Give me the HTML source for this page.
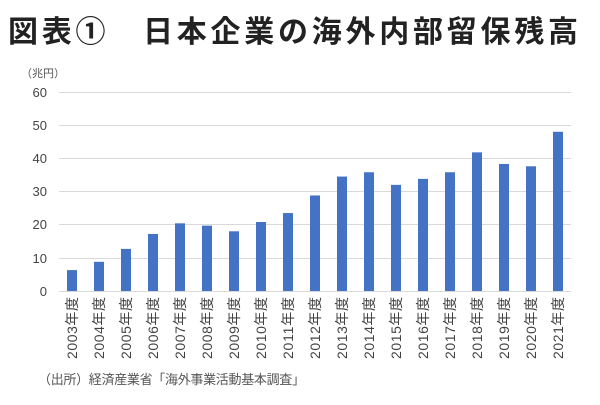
<!DOCTYPE html>
<html><head><meta charset="utf-8"><style>
body{margin:0;background:#fff;width:600px;height:400px;overflow:hidden}
svg text{font-family:"Liberation Sans","Noto Sans CJK JP",sans-serif}
</style></head><body>
<svg width="600" height="400" xmlns="http://www.w3.org/2000/svg">
<text x="8" y="42" font-size="30" font-weight="bold" fill="#222" style="font-family:'Noto Sans CJK JP',sans-serif" textLength="570">図表①　日本企業の海外内部留保残高</text>
<text x="21" y="77" font-size="11" fill="#555" style="font-family:'Noto Sans CJK JP',sans-serif">（兆円）</text>
<g stroke="#d9d9d9" stroke-width="1">
<line x1="59" x2="571" y1="92.5" y2="92.5"/><line x1="59" x2="571" y1="125.5" y2="125.5"/>
<line x1="59" x2="571" y1="158.5" y2="158.5"/><line x1="59" x2="571" y1="191.5" y2="191.5"/>
<line x1="59" x2="571" y1="224.5" y2="224.5"/><line x1="59" x2="571" y1="258.5" y2="258.5"/>
<line x1="59" x2="571" y1="291.5" y2="291.5"/></g>
<g font-size="13" fill="#444" text-anchor="end">
<text x="47" y="97">60</text><text x="47" y="130">50</text><text x="47" y="163">40</text>
<text x="47" y="196">30</text><text x="47" y="229">20</text><text x="47" y="263">10</text><text x="47" y="296">0</text></g>
<g id="bars" fill="#4472c4"></g>
<g id="labs" font-size="14" fill="#444"></g>
<text x="38" y="384" font-size="13" fill="#555" style="font-family:'Noto Sans CJK JP',sans-serif" textLength="267">（出所）経済産業省「海外事業活動基本調査」</text>
<script>
var v=[6.3,8.8,12.7,17.2,20.4,19.7,18,20.8,23.5,28.8,34.5,35.8,32,33.8,35.8,41.8,38.3,37.6,48];
var b=document.getElementById('bars'),l=document.getElementById('labs'),ns='http://www.w3.org/2000/svg';
v.forEach(function(d,i){var cx=72+i*27,h=d*3.317;
var r=document.createElementNS(ns,'rect');r.setAttribute('x',cx-5);r.setAttribute('y',291-h);r.setAttribute('width',10);r.setAttribute('height',h);b.appendChild(r);
var t=document.createElementNS(ns,'text');t.setAttribute('transform','translate('+(cx+5)+',359) rotate(-90)');t.setAttribute('textLength','62');t.textContent=(2003+i)+'年度';l.appendChild(t);});
</script>
</svg>
</body></html>
